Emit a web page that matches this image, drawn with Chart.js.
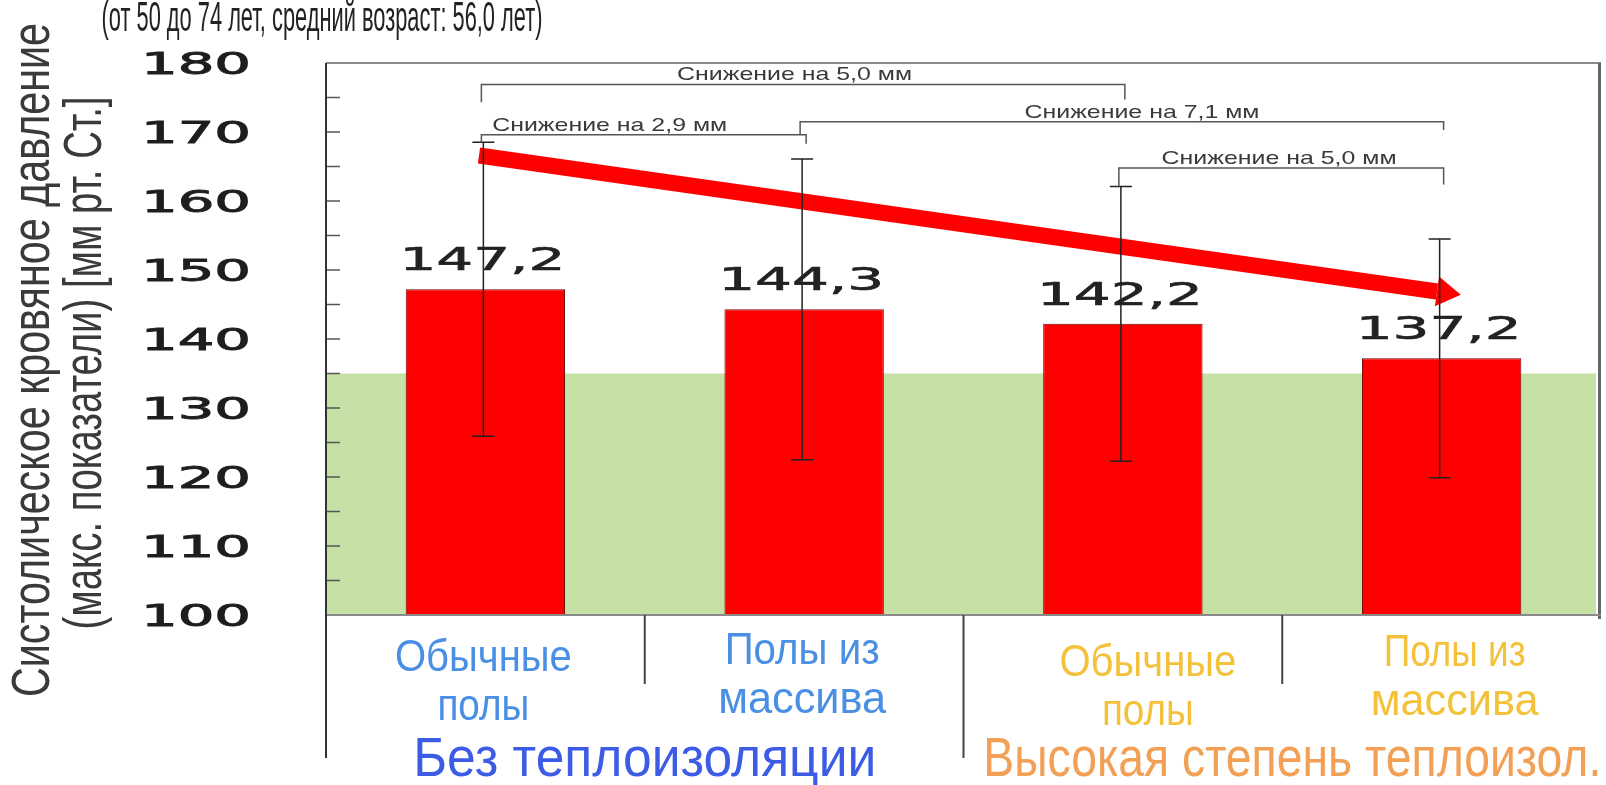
<!DOCTYPE html>
<html>
<head>
<meta charset="utf-8">
<script src="https://cdn.jsdelivr.net/npm/chart.js@4.4.1/dist/chart.umd.min.js"></script>
<style>
  html, body { margin: 0; padding: 0; background: #fff; }
  #wrap { width: 1606px; height: 785px; position: relative; }
</style>
</head>
<body>
<div id="wrap"><canvas id="c"></canvas></div>
<script>
'use strict';
// Систолическое давление по типу пола и теплоизоляции

const categories = [['Обычные', 'полы'], ['Полы из', 'массива'], ['Обычные', 'полы'], ['Полы из', 'массива']];
const groups = ['Без теплоизоляции', 'Высокая степень теплоизол.'];
const means = [147.2, 144.3, 142.2, 137.2];
const sds = [21.3, 21.8, 19.9, 17.3];
const valueText = ['147,2', '144,3', '142,2', '137,2'];
const yTicks = [100, 110, 120, 130, 140, 150, 160, 170, 180];
const minorTicks = [105, 110, 115, 120, 125, 130, 135, 140, 145, 150, 155, 160, 165, 170, 175];
const normalBand = [100, 135];

// скобки «Снижение на …»: от / до категории, уровень линии, концы ножек
const bracketText = ['Снижение на 5,0 мм', 'Снижение на 2,9 мм', 'Снижение на 7,1 мм', 'Снижение на 5,0 мм'];
const bracketFrom = [0, 0, 1, 2];
const bracketTo = [2, 1, 3, 3];
const bracketLevel = [176.9, 169.6, 171.5, 164.8];
const bracketLegA = [174.3, 168.5, 169.6, 162.1];
const bracketLegB = [174.7, 168.3, 170.3, 162.4];
const bracketTextAt = [0.97, 0.39, 2.06, 2.49];

// тренд-стрелка (позиция по категориям, значение)
const arrowX = [-0.02, 3.06];
const arrowY = [166.6, 146.4];

const subtitle = '(от 50 до 74 лет, средний возраст: 56,0 лет)';
const yTitle = ['Систолическое кровяное давление', '(макс. показатели) [мм рт. Ст.]'];

const catColors = ['#4a8fe3', '#4a8fe3', '#f3c23a', '#f3c23a'];
const groupColors = ['#3d5ce6', '#f2a056'];

function fitText(ctx, text, x, y, font, color, targetW, align = 'center', rot = 0, stroke = 0) {
  ctx.save();
  ctx.font = font;
  ctx.fillStyle = color;
  ctx.textBaseline = 'alphabetic';
  ctx.textAlign = align;
  const w = ctx.measureText(text).width;
  const sx = targetW ? targetW / w : 1;
  ctx.translate(x, y);
  if (rot) ctx.rotate(rot);
  ctx.scale(sx, 1);
  ctx.fillText(text, 0, 0);
  if (stroke) { ctx.strokeStyle = color; ctx.lineWidth = stroke; ctx.strokeText(text, 0, 0); }
  ctx.restore();
}

const overlay = {
  id: 'overlay',
  beforeDatasetsDraw(chart) {
    const { ctx, chartArea: a, scales: { y } } = chart;
    const yt = y.getPixelForValue(normalBand[1]), yb = y.getPixelForValue(normalBand[0]);
    ctx.save();
    ctx.fillStyle = '#c6e1a6';
    ctx.fillRect(a.left, yt, a.right - a.left - 5, yb - yt);
    ctx.restore();
  },
  afterDatasetsDraw(chart) {
    const { ctx, chartArea: a, scales: { x, y } } = chart;
    ctx.save();

    // подписи значений
    means.forEach((m, i) => {
      fitText(ctx, valueText[i], x.getPixelForValue(i) - 3, y.getPixelForValue(m) - 19,
        '32px "DejaVu Sans"', '#222', 166, 'center', 0, 0.6);
    });

    // стрелка
    const x0 = x.getPixelForValue(arrowX[0]), y0 = y.getPixelForValue(arrowY[0]);
    const x1 = x.getPixelForValue(arrowX[1]), y1 = y.getPixelForValue(arrowY[1]);
    const ang = Math.atan2(y1 - y0, x1 - x0), L = 24, W = 15;
    const bx = x1 - L * Math.cos(ang), by = y1 - L * Math.sin(ang);
    ctx.strokeStyle = '#ff0000';
    ctx.lineWidth = 16;
    ctx.lineCap = 'butt';
    ctx.beginPath(); ctx.moveTo(x0, y0); ctx.lineTo(bx, by); ctx.stroke();
    ctx.fillStyle = '#ff0000';
    ctx.beginPath();
    ctx.moveTo(x1, y1);
    ctx.lineTo(bx + W * Math.sin(ang), by - W * Math.cos(ang));
    ctx.lineTo(bx - W * Math.sin(ang), by + W * Math.cos(ang));
    ctx.closePath(); ctx.fill();

    // планки погрешностей
    ctx.strokeStyle = '#222';
    ctx.lineWidth = 1.5;
    means.forEach((m, i) => {
      const px = x.getPixelForValue(i) - 2;
      const t = y.getPixelForValue(m + sds[i]), b = y.getPixelForValue(m - sds[i]);
      ctx.beginPath();
      ctx.moveTo(px, t); ctx.lineTo(px, b);
      ctx.moveTo(px - 11, t); ctx.lineTo(px + 11, t);
      ctx.moveTo(px - 11, b); ctx.lineTo(px + 11, b);
      ctx.stroke();
    });

    // скобки
    bracketText.forEach((txt, i) => {
      const xa = x.getPixelForValue(bracketFrom[i]) - 4, xb = x.getPixelForValue(bracketTo[i]) + 2;
      const ly = y.getPixelForValue(bracketLevel[i]);
      ctx.strokeStyle = '#555';
      ctx.lineWidth = 1.5;
      ctx.beginPath();
      ctx.moveTo(xa, y.getPixelForValue(bracketLegA[i]));
      ctx.lineTo(xa, ly); ctx.lineTo(xb, ly);
      ctx.lineTo(xb, y.getPixelForValue(bracketLegB[i]));
      ctx.stroke();
      fitText(ctx, txt, x.getPixelForValue(bracketTextAt[i]), ly - 4, '19px "Liberation Sans"', '#3a3a3a', 235);
    });

    // рамка и малые деления
    ctx.lineCap = 'butt';
    ctx.strokeStyle = '#8a8a8a'; ctx.lineWidth = 2;
    ctx.beginPath(); ctx.moveTo(a.left, a.top); ctx.lineTo(a.right, a.top); ctx.stroke();
    ctx.strokeStyle = '#666'; ctx.lineWidth = 3;
    ctx.beginPath(); ctx.moveTo(a.right - 1.5, a.top); ctx.lineTo(a.right - 1.5, a.bottom + 4); ctx.stroke();
    ctx.strokeStyle = '#8a8a8a'; ctx.lineWidth = 2;
    ctx.beginPath(); ctx.moveTo(a.left, a.bottom); ctx.lineTo(a.right, a.bottom); ctx.stroke();
    ctx.strokeStyle = '#555'; ctx.lineWidth = 1.5;
    minorTicks.forEach(v => {
      const py = y.getPixelForValue(v);
      ctx.beginPath(); ctx.moveTo(a.left, py); ctx.lineTo(a.left + 14, py); ctx.stroke();
    });
    ctx.restore();
  },
  afterDraw(chart) {
    const { ctx, chartArea: a, scales: { x, y } } = chart;
    ctx.save();
    // левая ось и разделители под осью
    ctx.strokeStyle = '#333'; ctx.lineWidth = 2;
    ctx.beginPath(); ctx.moveTo(a.left, a.top); ctx.lineTo(a.left, 758); ctx.stroke();
    for (let i = 0; i < categories.length - 1; i++) {
      const bx = (x.getPixelForValue(i) + x.getPixelForValue(i + 1)) / 2;
      const long = (i + 1) % 2 === 0;
      ctx.strokeStyle = '#444';
      ctx.beginPath(); ctx.moveTo(bx, a.bottom); ctx.lineTo(bx, long ? 758 : 684); ctx.stroke();
    }

    // подписи оси Y
    yTicks.forEach(v => {
      fitText(ctx, String(v), 196, y.getPixelForValue(v) + 11, '31px "DejaVu Sans"', '#1e1e1e', 110, 'center', 0, 0.9);
    });

    // подписи категорий
    const shift = [-2, -2, 25, 13];
    const base = [671, 664, 676, 666];
    const widths = [[177, 92], [155, 168], [177, 92], [142, 168]];
    categories.forEach((lines, i) => {
      const cx = x.getPixelForValue(i) + shift[i];
      lines.forEach((t, k) => {
        fitText(ctx, t, cx, base[i] + k * 49, '44px "Liberation Sans"', catColors[i], widths[i][k]);
      });
    });
    // группы
    groups.forEach((g, gi) => {
      const cx = (x.getPixelForValue(gi * 2) + x.getPixelForValue(gi * 2 + 1)) / 2 + (gi ? 10 : 0);
      fitText(ctx, g, cx, 776, '56px "Liberation Sans"', groupColors[gi], gi ? 618 : 463);
    });

    // заголовки
    fitText(ctx, subtitle, 322, 31, '42px "Liberation Sans"', '#222', 441);
    fitText(ctx, yTitle[0], 49, 360, '53px "Liberation Sans"', '#3a3a3a', 674, 'center', -Math.PI / 2);
    fitText(ctx, yTitle[1], 101, 363, '53px "Liberation Sans"', '#3a3a3a', 533, 'center', -Math.PI / 2);
    ctx.restore();
  },
};

new Chart(document.getElementById('c'), {
  type: 'bar',
  data: {
    labels: categories.map(c => c.join(' ')),
    datasets: [{
      data: means,
      backgroundColor: '#ff0000',
      borderColor: '#6a0000',
      borderWidth: 1,
      barPercentage: 0.5,
      categoryPercentage: 1,
    }],
  },
  plugins: [overlay],
  options: {
    responsive: true,
    maintainAspectRatio: false,
    animation: false,
    layout: { padding: { left: 326, right: 5, top: 63, bottom: 170 } },
    plugins: { legend: { display: false }, tooltip: { enabled: false } },
    scales: {
      x: {
        ticks: { display: false },
        grid: { display: false },
        border: { display: false },
        afterFit(s) { s.height = 0; },
      },
      y: {
        min: 100, max: 180,
        ticks: { display: false, stepSize: 10 },
        grid: { display: false },
        border: { display: false },
        afterFit(s) { s.width = 0; },
      },
    },
  },
});
</script>
</body>
</html>
